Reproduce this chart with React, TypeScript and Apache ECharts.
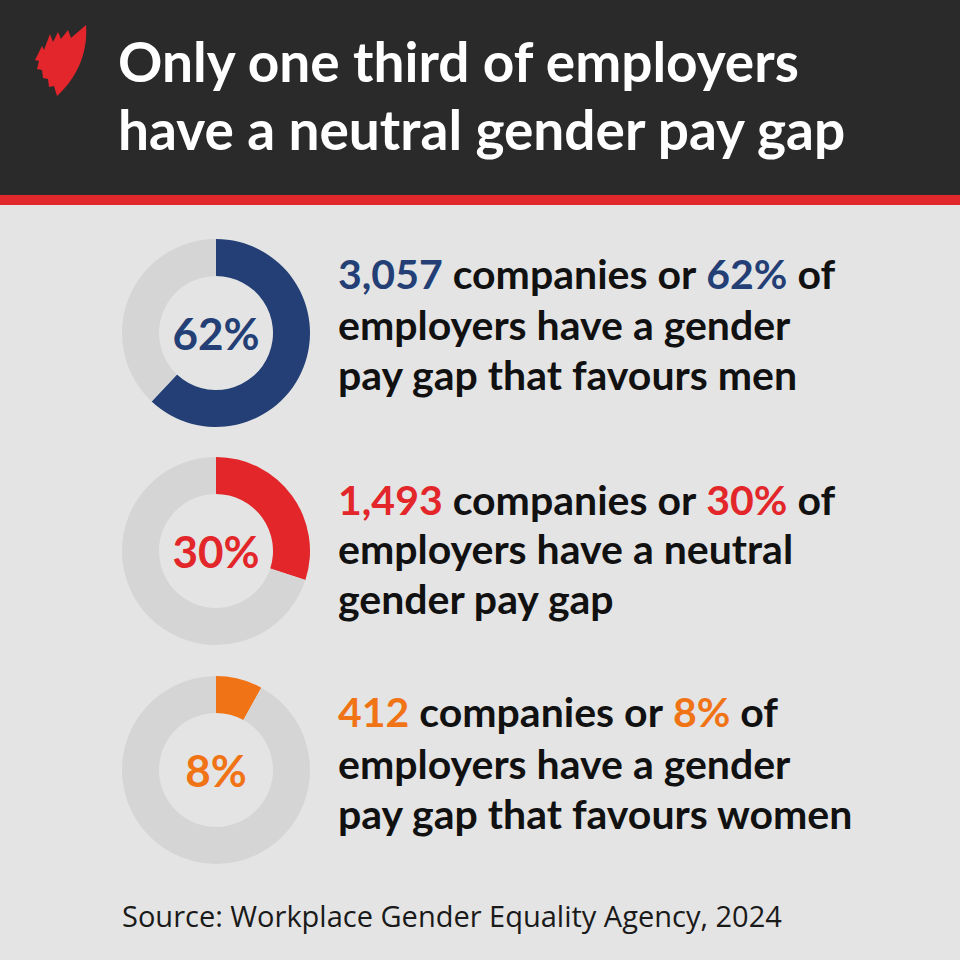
import React, { useEffect, useRef } from "react";
import * as echarts from "echarts";

const companies = [3057, 1493, 412];
const percents = [62, 30, 8];
const colors = ["#233f76", "#e2262a", "#f07316"];
const line2 = ["employers have a gender", "employers have a neutral", "employers have a gender"];
const line3 = ["pay gap that favours men", "gender pay gap", "pay gap that favours women"];
const titleLines = ["Only one third of employers", "have a neutral gender pay gap"];
const sourceText = "Source: Workplace Gender Equality Agency, 2024";

const centersY = [333, 551, 770];
const baselines = [
  [287, 338, 388],
  [513, 562, 612],
  [725, 777, 827],
];

const LOGO_D =
  "M86,25 C88,50 79,76 57,96 L54,86 L49,87 L48,79 L43,78 L42,70 L37,69 L39,61 L35,60 L42,46 L44,50 L50,34 L53,42 L58,32 L61,39 L68,30 L71,38 Z";

let registered = false;

export default function App() {
  const ref = useRef<HTMLDivElement>(null);
  useEffect(() => {
    if (!ref.current) return;
    if (!registered) {
      echarts.graphic.registerShape("logo", echarts.graphic.extendPath(LOGO_D, {}) as any);
      registered = true;
    }
    const chart = echarts.init(ref.current, null, { renderer: "svg" });
    const font = "Lato";
    const bodySize = 41;
    const titleSize = 55;
    const mid = (b: number, fs: number) => b - fs * 0.34;

    const series: any[] = percents.map((p, i) => ({
      type: "pie",
      center: [216, centersY[i]],
      radius: [57, 94],
      startAngle: 90,
      clockwise: true,
      silent: true,
      animation: false,
      label: {
        show: true,
        position: "center",
        formatter: "{c}%",
        color: colors[i],
        fontFamily: font,
        fontWeight: "bold",
        fontSize: 44,
      },
      labelLine: { show: false },
      emphasis: { disabled: true },
      data: [
        { value: p, itemStyle: { color: colors[i] } },
        { value: 100 - p, itemStyle: { color: "#d5d5d5" }, label: { show: false } },
      ],
    }));

    const graphics: any[] = [
      { type: "rect", shape: { x: 0, y: 0, width: 960, height: 960 }, style: { fill: "#e4e4e4" }, z: -10 },
      { type: "rect", shape: { x: 0, y: 0, width: 960, height: 195 }, style: { fill: "#2b2a2b" }, z: -5 },
      { type: "rect", shape: { x: 0, y: 195, width: 960, height: 10 }, style: { fill: "#e2282b" }, z: -5 },
      { type: "logo", x: 0, y: 0, style: { fill: "#e3262b" } },
    ];
    titleLines.forEach((t, i) => {
      graphics.push({
        type: "text",
        x: 118,
        y: mid(i === 0 ? 80 : 148, titleSize),
        style: {
          text: t,
          fill: "#ffffff",
          font: `bold ${titleSize}px ${font}`,
          verticalAlign: "middle",
          align: "left",
        },
      });
    });
    percents.forEach((p, i) => {
      const rich: any = {
        hl: { fill: colors[i], font: `bold ${bodySize}px ${font}` },
        tx: { fill: "#111111", font: `bold ${bodySize}px ${font}` },
      };
      graphics.push({
        type: "text",
        x: 338,
        y: mid(baselines[i][0], bodySize),
        style: {
          text: `{hl|${companies[i].toLocaleString("en-US")}}{tx| companies or }{hl|${p}%}{tx| of}`,
          rich,
          verticalAlign: "middle",
          align: "left",
        },
      });
      [line2[i], line3[i]].forEach((t, j) => {
        graphics.push({
          type: "text",
          x: 338,
          y: mid(baselines[i][j + 1], bodySize),
          style: {
            text: t,
            fill: "#111111",
            font: `bold ${bodySize}px ${font}`,
            verticalAlign: "middle",
            align: "left",
          },
        });
      });
    });
    graphics.push({
      type: "text",
      x: 122,
      y: mid(925, 29),
      style: {
        text: sourceText,
        fill: "#1a1a1a",
        font: `29px "Open Sans"`,
        verticalAlign: "middle",
        align: "left",
      },
    });

    chart.setOption({
      animation: false,
      backgroundColor: "#e4e4e4",
      graphic: graphics,
      series,
    });
    return () => chart.dispose();
  }, []);
  return (
    <div
      ref={ref}
      style={{ position: "absolute", left: 0, top: 0, width: 960, height: 960 }}
    />
  );
}
